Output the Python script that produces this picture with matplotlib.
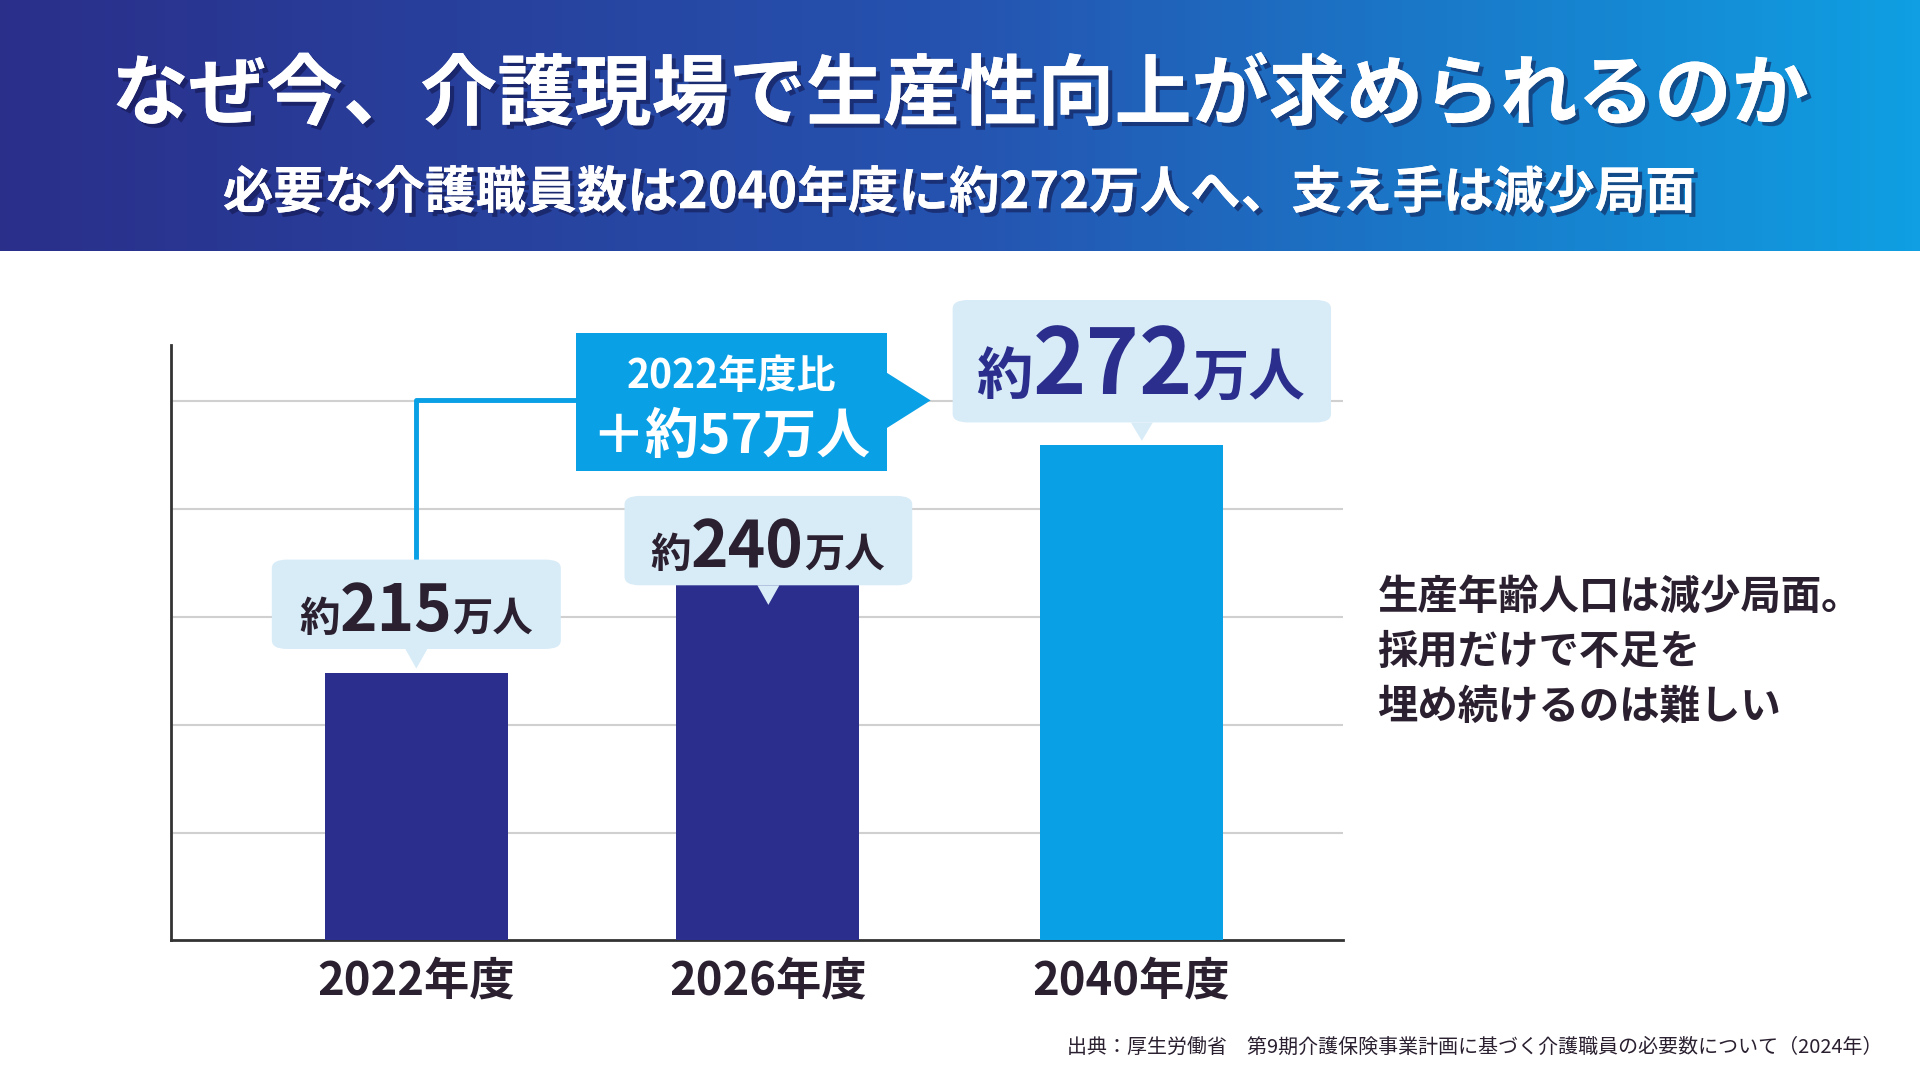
import matplotlib
matplotlib.use("Agg")
import matplotlib.pyplot as plt
import numpy as np
from matplotlib.patches import FancyBboxPatch, Polygon
from matplotlib.lines import Line2D
import matplotlib.patheffects as pe
from matplotlib.colors import LinearSegmentedColormap

plt.rcParams['font.family'] = ['Noto Sans CJK JP', 'DejaVu Sans']

categories = ["2022年度", "2026年度", "2040年度"]
values = [215, 240, 272]
value_labels = ["215", "240", "272"]
title = "なぜ今、介護現場で生産性向上が求められるのか"
subtitle = "必要な介護職員数は2040年度に約272万人へ、支え手は減少局面"
side_text = ["生産年齢人口は減少局面。", "採用だけで不足を", "埋め続けるのは難しい"]
diff_lines = ["2022年度比", "＋約57万人"]
source = "出典：厚生労働省　第9期介護保険事業計画に基づく介護職員の必要数について（2024年）"

W, H = 1920, 1072
S = 1920 / 1568
fig = plt.figure(figsize=(W/100, H/100), dpi=100)
fig.patch.set_facecolor("white")

def fx(x): return x * S / W
def fy(y): return 1 - y * S / H
def pt(px_ref): return px_ref * S * 0.72

TXT = "#2a2030"
DARK = "#2b2e8c"
LIGHT = "#0aa0e6"
BOXBG = "#d8ecf8"

hax = fig.add_axes([0, fy(205), 1, 1 - fy(205)])
grad = np.linspace(0, 1, 512)[None, :]
cmap = LinearSegmentedColormap.from_list("g", ["#2a2f8a", "#2553b0", "#0f9fe2"])
hax.imshow(grad, aspect="auto", cmap=cmap, extent=[0, 1, 0, 1])
hax.axis("off")

shadow = [pe.withSimplePatchShadow(offset=(3, -3), shadow_rgbFace="#101040", alpha=0.5), pe.Normal()]
fig.text(0.5, fy(97), title, ha="center", va="baseline", color="white", fontsize=pt(63), fontweight="bold", path_effects=shadow)
fig.text(0.5, fy(170), subtitle, ha="center", va="baseline", color="white", fontsize=pt(41.3), fontweight="bold", path_effects=shadow)

ax = fig.add_axes([fx(140), fy(768), fx(1097) - fx(140), fy(282) - fy(768)])
ax.set_xlim(-0.697, 2.638)
ax.set_ylim(148, 297)
ax.bar([0, 1, 2.035], values, width=0.52, color=[DARK, DARK, LIGHT], zorder=3)
ax.set_yticks([175, 202, 229, 256, 283])
ax.grid(axis="y", color="#d0d0d0", lw=1.5, zorder=0)
ax.set_yticklabels([])
ax.tick_params(left=False, bottom=False, labelbottom=False)
for s in ["top", "right"]:
    ax.spines[s].set_visible(False)
ax.spines["left"].set_color("#333333"); ax.spines["bottom"].set_color("#333333")
ax.spines["left"].set_linewidth(2); ax.spines["bottom"].set_linewidth(2)

xc_ref = [340, 627, 924]
for x, c in zip(xc_ref, categories):
    fig.text(fx(x), fy(812), c, ha="center", va="baseline", color=TXT, fontsize=pt(37), fontweight="bold")

fig.canvas.draw()
renderer = fig.canvas.get_renderer()

def rich(xc, yb, pieces, color=TXT):
    texts = []
    for s_, size in pieces:
        t = fig.text(0, fy(yb), s_, ha="left", va="baseline", color=color, fontsize=pt(size), fontweight="bold", zorder=10)
        texts.append(t)
    widths = [t.get_window_extent(renderer).width for t in texts]
    total = sum(widths)
    x0 = fx(xc) * W - total / 2
    for t, w in zip(texts, widths):
        t.set_x(x0 / W)
        x0 += w

def callout(x0, y0, x1, y1, ptr_y):
    xc = (x0 + x1) / 2
    fig.patches.append(FancyBboxPatch((fx(x0), fy(y1)), fx(x1) - fx(x0), fy(y0) - fy(y1),
                                      boxstyle="round,pad=0,rounding_size=0.008", transform=fig.transFigure,
                                      fc=BOXBG, ec="none", zorder=5))
    fig.patches.append(Polygon([(fx(xc - 9), fy(y1)), (fx(xc + 9), fy(y1)), (fx(xc), fy(ptr_y))],
                               transform=fig.transFigure, fc=BOXBG, ec="none", zorder=5))

fig.lines.append(Line2D([fx(340), fx(340), fx(480)], [fy(457), fy(327), fy(327)], transform=fig.transFigure,
                        color=LIGHT, lw=4 * S * 0.72, zorder=4))

callout(222, 457, 458, 530, 546)
callout(510, 405, 745, 478, 494)
callout(778, 245, 1087, 345, 360)
rich(340, 515, [("約", 33), (value_labels[0], 52), ("万人", 33)])
rich(627, 463, [("約", 33), (value_labels[1], 52), ("万人", 33)])
rich(932, 322, [("約", 46), (value_labels[2], 74), ("万人", 46)], color=DARK)

fig.patches.append(FancyBboxPatch((fx(470), fy(385)), fx(724) - fx(470), fy(272) - fy(385),
                                  boxstyle="square,pad=0", transform=fig.transFigure, fc=LIGHT, ec="none", zorder=6))
fig.patches.append(Polygon([(fx(722), fy(303)), (fx(722), fy(351)), (fx(760), fy(327))],
                           transform=fig.transFigure, fc=LIGHT, ec="none", zorder=6))
rich(597, 317, [(diff_lines[0], 32)], color="white")
rich(597, 370, [(diff_lines[1], 44)], color="white")

for i, line in enumerate(side_text):
    fig.text(fx(1125), fy(497 + 45 * i), line, ha="left", va="baseline", color=TXT, fontsize=pt(33), fontweight="bold")

fig.text(fx(1537), fy(860), source, ha="right", va="baseline", color=TXT, fontsize=pt(16.3))

fig.savefig("out.png", dpi=100, facecolor="white")
